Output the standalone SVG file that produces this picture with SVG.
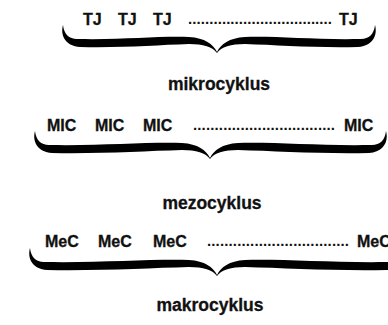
<svg xmlns="http://www.w3.org/2000/svg" width="388" height="325" viewBox="0 0 388 325">
<style>
.t{font-family:"Liberation Sans",Arial,sans-serif;font-weight:bold;font-size:16px;fill:#111;stroke:#111;stroke-width:0.3}
.d{font-family:"Liberation Sans",Arial,sans-serif;font-weight:bold;font-size:15px;fill:#111}
.l{font-family:"Liberation Sans",Arial,sans-serif;font-weight:bold;font-size:17.5px;fill:#111;stroke:#111;stroke-width:0.3}
.b{fill:#000}
</style>
<rect width="388" height="325" fill="#fff"/>
<g id="row1">
<text class="t" x="83" y="25">TJ</text>
<text class="t" x="118" y="25">TJ</text>
<text class="t" x="153" y="25">TJ</text>
<text class="d" x="188" y="24" textLength="144" lengthAdjust="spacing">..................................</text>
<text class="t" x="339" y="25">TJ</text>
</g>
<g id="brace1">
<path class="b" d="M217,52 C213,44 205,38 189,37 C157,36 123,40 77,39 C69,39 64,34 63,25 C60,36 66,46 80,47 C123,48 157,45 189,44 C203,44 213,47 217,53 Z"/>
<path class="b" d="M217,52 C221,44 229,38 245,37 C277,36 315,40 361,39 C369,39 374,34 375,25 C378,36 372,46 358,47 C315,48 277,45 245,44 C231,44 221,47 217,53 Z"/>
</g>
<g id="label1"><text class="l" x="219" y="90" text-anchor="middle">mikrocyklus</text></g>
<g id="row2">
<text class="t" x="47" y="131">MIC</text>
<text class="t" x="95" y="131">MIC</text>
<text class="t" x="143" y="131">MIC</text>
<text class="d" x="193" y="130" textLength="142" lengthAdjust="spacing">.................................</text>
<text class="t" x="344" y="131">MIC</text>
</g>
<g id="brace2">
<path class="b" d="M210,158 C206,150 198,144 182,143 C145,142 100,146 49,145 C41,145 36,140 35,131 C32,142 38,152 52,153 C100,154 145,151 182,150 C196,150 206,153 210,159 Z"/>
<path class="b" d="M210,158 C214,150 222,144 238,143 C275,142 320,146 372,145 C380,145 385,140 386,131 C389,142 383,152 369,153 C320,154 275,151 238,150 C224,150 214,153 210,159 Z"/>
</g>
<g id="label2"><text class="l" x="212" y="209" text-anchor="middle">mezocyklus</text></g>
<g id="row3">
<text class="t" x="45" y="247">MeC</text>
<text class="t" x="98" y="247">MeC</text>
<text class="t" x="153" y="247">MeC</text>
<text class="d" x="207" y="246" textLength="142" lengthAdjust="spacing">.................................</text>
<text class="t" x="357" y="247">MeC</text>
</g>
<g id="brace3">
<path class="b" d="M217,275 C213,267 205,261 189,260 C150,259 100,263 44,262 C36,262 31,257 30,248 C27,259 33,269 47,270 C100,271 150,268 189,267 C203,267 213,270 217,276 Z"/>
<path class="b" d="M217,275 C221,267 229,261 245,260 C284,259 334,263 390,262 C398,262 403,257 404,248 C407,259 401,269 387,270 C334,271 284,268 245,267 C231,267 221,270 217,276 Z"/>
</g>
<g id="label3"><text class="l" x="210" y="311" text-anchor="middle">makrocyklus</text></g>
</svg>
